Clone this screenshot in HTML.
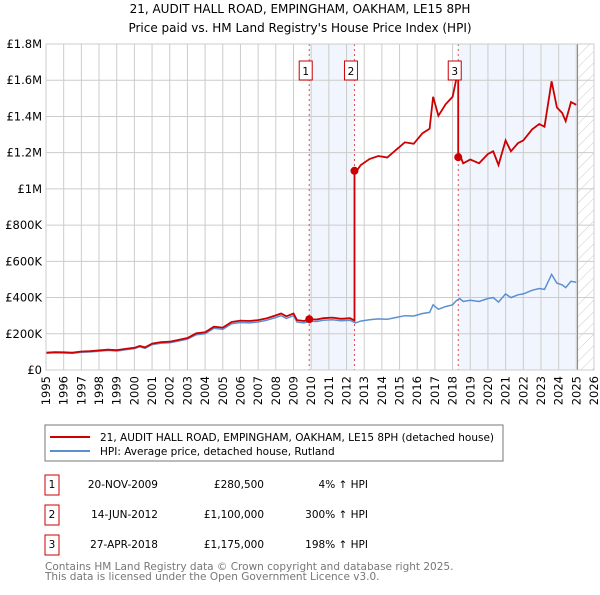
<!DOCTYPE html>
<html><head><meta charset="utf-8"><style>
body{margin:0;background:#fff;font-family:"Liberation Sans","DejaVu Sans",sans-serif;}
svg text{font-family:"DejaVu Sans","Liberation Sans",sans-serif;}
</style></head><body>
<svg id="c" width="600" height="590" xmlns="http://www.w3.org/2000/svg">
<defs><pattern id="hatch" width="8" height="8" patternUnits="userSpaceOnUse" patternTransform="rotate(45)"><line x1="0" y1="0" x2="0" y2="8" stroke="#ccc" stroke-width="1"/></pattern></defs>
<text x="300" y="13" text-anchor="middle" font-size="12">21, AUDIT HALL ROAD, EMPINGHAM, OAKHAM, LE15 8PH</text>
<text x="300" y="32" text-anchor="middle" font-size="12">Price paid vs. HM Land Registry's House Price Index (HPI)</text>
<g id="plot"></g>
<rect x="45" y="425" width="458" height="36" fill="#fff" stroke="#777"/>
<line x1="50" y1="437" x2="90" y2="437" stroke="#cc0000" stroke-width="2"/>
<text x="100" y="441" font-size="10.5">21, AUDIT HALL ROAD, EMPINGHAM, OAKHAM, LE15 8PH (detached house)</text>
<line x1="50" y1="451" x2="90" y2="451" stroke="#5b8fd0" stroke-width="2"/>
<text x="100" y="455" font-size="10.5">HPI: Average price, detached house, Rutland</text>
<g id="table" font-size="10.5"></g>
<text x="45" y="570" font-size="10.5" fill="#777">Contains HM Land Registry data © Crown copyright and database right 2025.</text>
<text x="45" y="580" font-size="10.5" fill="#777">This data is licensed under the Open Government Licence v3.0.</text>
</svg>
<script>
const hpiYears=[1995.0,1995.5,1996.0,1996.5,1997.0,1997.5,1998.0,1998.5,1999.0,1999.5,2000.0,2000.3,2000.6,2001.0,2001.5,2002.0,2002.5,2003.0,2003.5,2004.0,2004.5,2005.0,2005.5,2006.0,2006.5,2007.0,2007.5,2008.0,2008.3,2008.6,2009.0,2009.2,2009.6,2009.9,2010.3,2010.7,2011.2,2011.7,2012.2,2012.5,2012.8,2013.3,2013.8,2014.3,2014.8,2015.3,2015.8,2016.3,2016.7,2016.9,2017.2,2017.6,2018.0,2018.2,2018.4,2018.6,2019.0,2019.5,2020.0,2020.3,2020.6,2021.0,2021.3,2021.7,2022.0,2022.5,2022.9,2023.2,2023.6,2023.9,2024.2,2024.4,2024.7,2025.0];
const hpiValues=[92,95,94,92,98,100,104,108,105,112,118,128,120,140,148,150,160,170,195,200,230,225,255,262,260,265,275,290,300,285,300,265,260,270,268,275,278,272,275,260,270,278,282,280,290,300,298,312,318,360,335,350,360,382,394,378,385,378,395,400,375,420,400,415,420,440,450,445,528,480,470,455,490,485];
const saleLabels=["1","2","3"];
const saleYears=[2009.89,2012.45,2018.32];
const salePrices=[280.5,1100,1175];
const saleDates=["20-NOV-2009","14-JUN-2012","27-APR-2018"];
const salePriceText=["£280,500","£1,100,000","£1,175,000"];
const saleHpiText=["4% ↑ HPI","300% ↑ HPI","198% ↑ HPI"];
const yTicks=[0,200,400,600,800,1000,1200,1400,1600,1800];
const yTickLabels=["£0","£200K","£400K","£600K","£800K","£1M","£1.2M","£1.4M","£1.6M","£1.8M"];
const xTicks=[1995,1996,1997,1998,1999,2000,2001,2002,2003,2004,2005,2006,2007,2008,2009,2010,2011,2012,2013,2014,2015,2016,2017,2018,2019,2020,2021,2022,2023,2024,2025,2026];

const L=46,R=594,T=44,B=370;
const X=y=>L+(y-1995)*(R-L)/31;
const Y=v=>B-v*(B-T)/1800;
const NS="http://www.w3.org/2000/svg";
const g=document.getElementById('plot');
function mk(t,a,p){const e=document.createElementNS(NS,t);for(const k in a)e.setAttribute(k,a[k]);(p||g).appendChild(e);return e;}
function hpiAt(y){for(let i=0;i<hpiYears.length-1;i++){if(y<=hpiYears[i+1]){const f=(y-hpiYears[i])/(hpiYears[i+1]-hpiYears[i]);return hpiValues[i]+f*(hpiValues[i+1]-hpiValues[i]);}}return hpiValues[hpiValues.length-1];}

let e;
e=mk('rect',{x:X(saleYears[0]),y:T,width:X(saleYears[1])-X(saleYears[0]),height:B-T,fill:'#eef3fc',opacity:0.8});

e=mk('rect',{x:X(saleYears[2]),y:T,width:X(2025.07)-X(saleYears[2]),height:B-T,fill:'#eef3fc',opacity:0.8});

e=mk('rect',{x:X(2025.07),y:T,width:R-X(2025.07),height:B-T,fill:'url(#hatch)'});

yTicks.forEach((v,i)=>{
 e=mk('line',{x1:L,x2:R,y1:Y(v),y2:Y(v),stroke:'#ccc','stroke-width':1});
 
 e=mk('text',{x:L-4,y:Y(v)+4,'text-anchor':'end','font-size':'11.5'});e.textContent=yTickLabels[i];
 
});
xTicks.forEach(t=>{
 e=mk('line',{x1:X(t),x2:X(t),y1:T,y2:B,stroke:'#ccc','stroke-width':1});
 
 e=mk('text',{x:0,y:0,'text-anchor':'end','font-size':'11.5',transform:`translate(${X(t)+4},${B+6}) rotate(-90)`});e.textContent=t;
 
});
e=mk('line',{x1:X(2025.07),x2:X(2025.07),y1:T,y2:B,stroke:'#888','stroke-width':1});

saleYears.forEach((s,i)=>{
 e=mk('line',{x1:X(s),x2:X(s),y1:T,y2:B,stroke:'#e05050','stroke-width':1,'stroke-dasharray':'2,3'});
 
});
let d=hpiYears.map((y,i)=>(i?'L':'M')+X(y).toFixed(1)+','+Y(hpiValues[i]).toFixed(1)).join('');
e=mk('path',{d:d,fill:'none',stroke:'#5b8fd0','stroke-width':1.5});

let pts=[];
function ratioAt(y){let k=-1;for(let i=0;i<saleYears.length;i++)if(y>=saleYears[i])k=i;if(k<0)k=0;return salePrices[k]/hpiAt(saleYears[k]);}
let ys=[...hpiYears];saleYears.forEach(s=>{ys.push(s-0.001);ys.push(s);});ys.sort((a,b)=>a-b);
ys.forEach(y=>{pts.push([X(y),Y(hpiAt(y)*ratioAt(y))]);});
d=pts.map((p,i)=>(i?'L':'M')+p[0].toFixed(1)+','+p[1].toFixed(1)).join('');
e=mk('path',{d:d,fill:'none',stroke:'#cc0000','stroke-width':1.8});

mk('rect',{x:L,y:T,width:R-L,height:B-T,fill:'none',stroke:'#ccc'});
saleYears.forEach((s,i)=>{
 e=mk('circle',{cx:X(s),cy:Y(salePrices[i]),r:4,fill:'#cc0000'});
 
 const bx=X(s)-10;
 e=mk('rect',{x:bx,y:T+17,width:13,height:19,fill:'#fff',stroke:'#cc0000'});
 
 e=mk('text',{x:bx+6.5,y:T+31,'text-anchor':'middle','font-size':'10.5'});e.textContent=saleLabels[i];
 
});
const tb=document.getElementById('table');
saleYears.forEach((s,i)=>{
 const y0=476+i*30;
 e=mk('rect',{x:45,y:y0-1,width:14,height:20,fill:'#fff',stroke:'#cc0000'},tb);
 
 e=mk('text',{x:52,y:y0+12,'text-anchor':'middle'},tb);e.textContent=saleLabels[i];
 
 e=mk('text',{x:158,y:y0+12,'text-anchor':'end'},tb);e.textContent=saleDates[i];
 
 e=mk('text',{x:264,y:y0+12,'text-anchor':'end'},tb);e.textContent=salePriceText[i];
 
 e=mk('text',{x:368,y:y0+12,'text-anchor':'end'},tb);e.textContent=saleHpiText[i];
 
});
</script>
</body></html>
